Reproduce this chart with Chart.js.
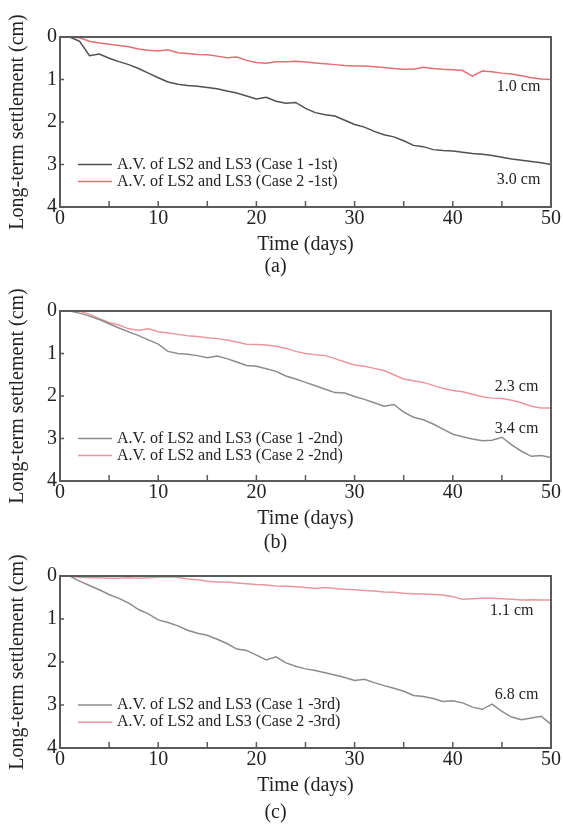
<!DOCTYPE html>
<html>
<head>
<meta charset="utf-8">
<title>Long-term settlement</title>
<script src="https://cdn.jsdelivr.net/npm/chart.js@4.4.1/dist/chart.umd.min.js"></script>
<style>
  body { margin: 0; background: #fff; }
  canvas { position: absolute; left: 0; }
</style>
</head>
<body>
<canvas id="chart-a" width="563" height="279" style="top:0px"></canvas>
<canvas id="chart-b" width="563" height="276" style="top:279px"></canvas>
<canvas id="chart-c" width="563" height="270" style="top:555px"></canvas>
<script>
// Datos (dias 1..50, asentamiento en cm)
const days = [1, 2, 3, 4, 5, 6, 7, 8, 9, 10, 11, 12, 13, 14, 15, 16, 17, 18, 19, 20,
  21, 22, 23, 24, 25, 26, 27, 28, 29, 30, 31, 32, 33, 34, 35, 36, 37, 38, 39, 40,
  41, 42, 43, 44, 45, 46, 47, 48, 49, 50];

const case1First = [0, 0.10, 0.44, 0.40, 0.50, 0.58, 0.65, 0.74, 0.85, 0.96,
  1.06, 1.11, 1.14, 1.16, 1.19, 1.22, 1.27, 1.32, 1.39, 1.46,
  1.42, 1.51, 1.56, 1.54, 1.68, 1.78, 1.83, 1.86, 1.96, 2.06,
  2.12, 2.22, 2.30, 2.35, 2.44, 2.55, 2.58, 2.65, 2.67, 2.68,
  2.71, 2.74, 2.76, 2.79, 2.83, 2.87, 2.90, 2.93, 2.96, 3.00];
const case2First = [0, 0.02, 0.10, 0.14, 0.17, 0.20, 0.23, 0.28, 0.31, 0.33,
  0.30, 0.37, 0.39, 0.41, 0.42, 0.45, 0.49, 0.47, 0.55, 0.60,
  0.62, 0.58, 0.58, 0.57, 0.59, 0.61, 0.63, 0.65, 0.67, 0.68,
  0.68, 0.70, 0.72, 0.74, 0.76, 0.76, 0.71, 0.74, 0.76, 0.77,
  0.79, 0.92, 0.80, 0.82, 0.85, 0.87, 0.91, 0.96, 0.99, 1.00];

const case1Second = [0, 0.05, 0.12, 0.20, 0.30, 0.40, 0.49, 0.58, 0.68, 0.78,
  0.95, 1.00, 1.02, 1.05, 1.10, 1.06, 1.12, 1.20, 1.28, 1.30,
  1.36, 1.42, 1.53, 1.60, 1.68, 1.76, 1.84, 1.92, 1.93, 2.01,
  2.08, 2.16, 2.24, 2.20, 2.38, 2.50, 2.56, 2.66, 2.78, 2.90,
  2.96, 3.01, 3.05, 3.04, 2.97, 3.15, 3.30, 3.42, 3.40, 3.45];
const case2Second = [0, 0.00, 0.08, 0.18, 0.27, 0.33, 0.42, 0.45, 0.42, 0.49,
  0.52, 0.55, 0.58, 0.60, 0.63, 0.65, 0.68, 0.73, 0.78, 0.79,
  0.80, 0.83, 0.88, 0.95, 1.00, 1.03, 1.05, 1.12, 1.20, 1.27,
  1.30, 1.35, 1.40, 1.50, 1.60, 1.64, 1.68, 1.75, 1.82, 1.87,
  1.90, 1.96, 2.02, 2.05, 2.06, 2.10, 2.16, 2.24, 2.28, 2.28];

const case1Third = [0, 0.12, 0.22, 0.32, 0.43, 0.52, 0.63, 0.78, 0.88, 1.02,
  1.08, 1.16, 1.26, 1.33, 1.38, 1.47, 1.57, 1.70, 1.73, 1.84,
  1.95, 1.88, 2.02, 2.10, 2.16, 2.20, 2.25, 2.30, 2.36, 2.43,
  2.40, 2.48, 2.55, 2.61, 2.68, 2.78, 2.80, 2.85, 2.92, 2.90,
  2.95, 3.05, 3.10, 2.98, 3.15, 3.28, 3.34, 3.30, 3.26, 3.45];
const case2Third = [0, 0.03, 0.04, 0.04, 0.05, 0.05, 0.04, 0.05, 0.04, 0.03,
  0.02, 0.03, 0.07, 0.09, 0.12, 0.14, 0.14, 0.16, 0.18, 0.20,
  0.21, 0.23, 0.24, 0.25, 0.27, 0.29, 0.27, 0.29, 0.31, 0.32,
  0.34, 0.35, 0.37, 0.38, 0.40, 0.41, 0.42, 0.43, 0.44, 0.48,
  0.54, 0.53, 0.52, 0.52, 0.53, 0.54, 0.56, 0.55, 0.56, 0.56];

const labelsFirst = ['A.V. of LS2 and LS3 (Case 1 -1st)', 'A.V. of LS2 and LS3 (Case 2 -1st)'];
const labelsSecond = ['A.V. of LS2 and LS3 (Case 1 -2nd)', 'A.V. of LS2 and LS3 (Case 2 -2nd)'];
const labelsThird = ['A.V. of LS2 and LS3 (Case 1 -3rd)', 'A.V. of LS2 and LS3 (Case 2 -3rd)'];

// Valores finales escritos junto a las curvas
const notesFirst = [{ text: '1.0 cm', x: 46.7, y: 1.17 }, { text: '3.0 cm', x: 46.7, y: 3.37 }];
const notesSecond = [{ text: '2.3 cm', x: 46.5, y: 1.79 }, { text: '3.4 cm', x: 46.5, y: 2.78 }];
const notesThird = [{ text: '1.1 cm', x: 46.0, y: 0.81 }, { text: '6.8 cm', x: 46.5, y: 2.77 }];

const SERIF = '"Liberation Serif", "Times New Roman", serif';
Chart.defaults.font.family = SERIF;
Chart.defaults.color = '#222';

// Marco, marcas interiores, leyenda y textos
const framePlugin = {
    id: 'frame',
    afterDatasetsDraw(chart, args, opts) {
        const { ctx, chartArea: a, scales: { x, y } } = chart;
        ctx.save();
        ctx.strokeStyle = '#5a5a5a';
        ctx.lineWidth = 2;
        ctx.strokeRect(a.left, a.top, a.right - a.left, a.bottom - a.top);

        ctx.lineWidth = 1.5;
        ctx.beginPath();
        for (let v = x.min + 5; v < x.max; v += 5) {
            const px = x.getPixelForValue(v);
            ctx.moveTo(px, a.bottom);
            ctx.lineTo(px, a.bottom - 6);
        }
        for (let v = y.min + 1; v < y.max; v += 1) {
            const py = y.getPixelForValue(v);
            ctx.moveTo(a.left, py);
            ctx.lineTo(a.left + 4, py);
        }
        ctx.stroke();

        ctx.font = '16px ' + SERIF;
        ctx.textBaseline = 'middle';
        chart.data.datasets.forEach((ds, i) => {
            const py = y.getPixelForValue(opts.legendRows[i]);
            ctx.strokeStyle = ds.borderColor;
            ctx.lineWidth = 1.5;
            ctx.beginPath();
            ctx.moveTo(a.left + 18, py);
            ctx.lineTo(a.left + 52, py);
            ctx.stroke();
            ctx.fillStyle = '#222';
            ctx.textAlign = 'left';
            ctx.fillText(ds.label, a.left + 57, py);
        });

        ctx.textAlign = 'center';
        opts.notes.forEach(n => {
            ctx.fillText(n.text, x.getPixelForValue(n.x), y.getPixelForValue(n.y));
        });
        ctx.restore();
    }
};

function makePanel(id, case1, case2, labels, colors, notes, tag, padTop, xTitleBottom) {
    const config = {
        type: 'line',
        data: {
            datasets: [
                {
                    label: labels[0],
                    data: days.map((d, i) => ({ x: d, y: case1[i] })),
                    borderColor: colors[0],
                    borderWidth: 1.5,
                    pointRadius: 0,
                    tension: 0
                },
                {
                    label: labels[1],
                    data: days.map((d, i) => ({ x: d, y: case2[i] })),
                    borderColor: colors[1],
                    borderWidth: 1.5,
                    pointRadius: 0,
                    tension: 0
                }
            ]
        },
        options: {
            responsive: false,
            animation: false,
            layout: { padding: { top: padTop, right: 12, left: 0, bottom: 0 } },
            scales: {
                x: {
                    type: 'linear',
                    min: 0,
                    max: 50,
                    grid: { display: false, drawTicks: false },
                    border: { display: false },
                    ticks: { stepSize: 10, padding: 2, maxRotation: 0,
                        font: { size: 20, lineHeight: 1 }, color: '#222' },
                    title: { display: true, text: 'Time (days)', color: '#222',
                        font: { size: 20, lineHeight: 1 }, padding: { top: 4, bottom: xTitleBottom } }
                },
                y: {
                    min: 0,
                    max: 4,
                    reverse: true,
                    grid: { display: false, drawTicks: false },
                    border: { display: false },
                    ticks: { stepSize: 1, padding: 3, font: { size: 20, lineHeight: 1 }, color: '#222' },
                    title: { display: true, text: 'Long-term settlement (cm)', color: '#222',
                        font: { size: 20, lineHeight: 1 }, padding: { top: 8, bottom: 0 } },
                    afterFit: s => { s.width = 60; }
                }
            },
            plugins: {
                legend: { display: false },
                tooltip: { enabled: false },
                title: { display: true, text: tag, position: 'bottom', color: '#222',
                    font: { size: 20, weight: 'normal', lineHeight: 1 }, padding: { top: 2, bottom: 2 } },
                frame: { legendRows: [3.0, 3.4], notes: notes }
            }
        },
        plugins: [framePlugin]
    };
    return new Chart(document.getElementById(id), config);
}

makePanel('chart-a', case1First, case2First, labelsFirst,
    ['rgb(80, 80, 80)', 'rgb(226, 110, 118)'], notesFirst, '(a)', 37, 0);
makePanel('chart-b', case1Second, case2Second, labelsSecond,
    ['rgb(140, 140, 140)', 'rgb(236, 150, 156)'], notesSecond, '(b)', 32, 2);
makePanel('chart-c', case1Third, case2Third, labelsThird,
    ['rgb(140, 140, 140)', 'rgb(236, 150, 156)'], notesThird, '(c)', 21, 5);
</script>
</body>
</html>
